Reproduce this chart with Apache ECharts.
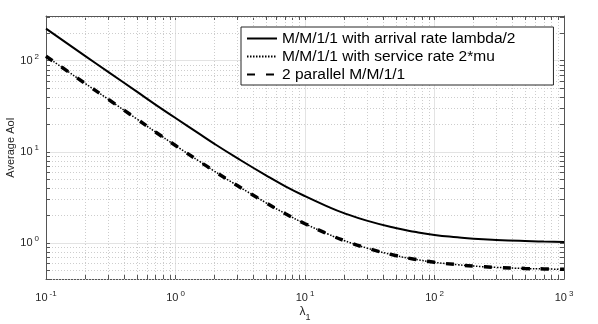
<!DOCTYPE html>
<html>
<head>
<meta charset="utf-8">
<script src="https://cdn.jsdelivr.net/npm/echarts@6/dist/echarts.min.js"></script>
<style>
html, body { margin: 0; padding: 0; background: #fff; }
#chart { width: 598px; height: 324px; }
</style>
</head>
<body>
<div id="chart"></div>
<script>
var lambdas = [0.1, 0.2, 0.3, 0.5, 0.7, 1, 1.5, 2, 3, 5, 7, 10, 15, 20, 30, 50, 70, 100, 150, 200, 300, 500, 700, 1000];
var halfArrival = [225, 113, 76, 46, 33, 23.5, 16, 12.2, 8.5, 5.5, 4.2, 3.25, 2.5, 2.12, 1.75, 1.45, 1.32, 1.22, 1.15, 1.11, 1.075, 1.045, 1.032, 1.022];
var doubleService = [112, 56.5, 38, 23, 16.5, 11.7, 8, 6.1, 4.25, 2.75, 2.1, 1.62, 1.25, 1.06, 0.875, 0.725, 0.66, 0.61, 0.575, 0.555, 0.537, 0.522, 0.516, 0.511];
var parallel = [112, 56.5, 38, 23, 16.5, 11.7, 8, 6.1, 4.25, 2.75, 2.1, 1.62, 1.25, 1.06, 0.875, 0.725, 0.66, 0.61, 0.575, 0.555, 0.537, 0.522, 0.516, 0.511];
var seriesNames = ['M/M/1/1 with arrival rate lambda/2', 'M/M/1/1 with service rate 2*mu', '2 parallel M/M/1/1'];

var xMin = 0.1, xMax = 1000;
var yMin = 0.4, yMax = 310;

function pairs(vals) {
    return lambdas.map(function (l, i) { return [l, vals[i]]; });
}

// minor decade positions (2..9 of each decade) for grid + ticks
var minorData = [];
[-1, 0, 1, 2].forEach(function (e) {
    for (var k = 2; k <= 9; k++) {
        var v = k * Math.pow(10, e);
        if (v > xMin && v < xMax) minorData.push([v, 1, 0]);
        if (v > yMin && v < yMax) minorData.push([1, v, 1]);
    }
});
for (var k = 4; k <= 9; k++) minorData.push([1, k / 10, 1]);

var textColor = '#262626';
var boxColor = '#555';
var font = 'Liberation Sans';

var powLabel = {
    formatter: function (v) {
        return '{b|10}{s|' + Math.round(Math.log10(v)) + '}';
    },
    rich: {
        b: { fontSize: 11, lineHeight: 16, color: textColor, fontFamily: font },
        s: { fontSize: 8, lineHeight: 9, verticalAlign: 'top', padding: [0, 0, 0, 2], color: textColor, fontFamily: font }
    }
};

function logAxis(min, max, extra) {
    var ax = {
        type: 'log',
        logBase: 10,
        min: min,
        max: max,
        axisLine: { show: true, onZero: false, lineStyle: { color: boxColor, width: 1 } },
        axisTick: { show: true, inside: true, length: 4, lineStyle: { color: boxColor } },
        splitLine: { show: false },
        axisLabel: { show: false }
    };
    return Object.assign(ax, extra);
}

var chart = echarts.init(document.getElementById('chart'));

var options = {
    animation: false,
    backgroundColor: '#fff',
    grid: { left: 46, right: 34, top: 16, bottom: 45, containLabel: false, outerBoundsMode: 'none' },
    legend: {
        orient: 'vertical',
        left: 241,
        top: 27,
        padding: [3, 38, 2, 5],
        itemGap: 1,
        itemWidth: 30,
        itemHeight: 14,
        backgroundColor: '#fff',
        borderColor: '#262626',
        borderWidth: 1,
        borderRadius: 0,
        itemStyle: { opacity: 0 },
        textStyle: { fontSize: 15.5, lineHeight: 17, color: '#000', fontFamily: font },
        data: seriesNames
    },
    xAxis: [
        logAxis(xMin, xMax, {
            position: 'bottom',
            name: '{a|λ}{b|1}',
            nameLocation: 'middle',
            nameGap: 23,
            nameMoveOverlap: false,
            nameTextStyle: {
                rich: {
                    a: { fontSize: 12, lineHeight: 20, color: textColor, fontFamily: font },
                    b: { fontSize: 9, lineHeight: 9, verticalAlign: 'bottom', color: textColor, fontFamily: font }
                }
            },
            splitLine: { show: true, lineStyle: { color: '#e3e3e3', width: 1 } },
            axisLabel: Object.assign({ show: true, margin: 11, showMinLabel: true, showMaxLabel: true }, powLabel)
        }),
        logAxis(xMin, xMax, { position: 'top' })
    ],
    yAxis: [
        logAxis(yMin, yMax, {
            position: 'left',
            name: 'Average AoI',
            nameLocation: 'middle',
            nameGap: 30,
            nameMoveOverlap: false,
            nameTextStyle: { fontSize: 11, color: textColor, fontFamily: font },
            splitLine: { show: true, lineStyle: { color: '#e3e3e3', width: 1 } },
            axisLabel: Object.assign({ show: true, margin: 7, showMinLabel: false, showMaxLabel: false }, powLabel)
        }),
        logAxis(yMin, yMax, { position: 'right' })
    ],
    series: [
        {
            type: 'custom',
            silent: true,
            z: 1,
            xAxisIndex: 0,
            yAxisIndex: 0,
            data: minorData,
            renderItem: function (params, api) {
                var cs = params.coordSys;
                var kind = api.value(2);
                var style = { stroke: '#cdcdcd', lineWidth: 1, lineDash: [1, 2] };
                var tick = { stroke: boxColor, lineWidth: 1 };
                var kids = [];
                if (kind === 0) {
                    var x = Math.round(api.coord([api.value(0), 1])[0]) + 0.5;
                    kids.push({ type: 'line', shape: { x1: x, y1: cs.y, x2: x, y2: cs.y + cs.height }, style: style });
                    kids.push({ type: 'line', shape: { x1: x, y1: cs.y + cs.height, x2: x, y2: cs.y + cs.height - 4 }, style: tick });
                    kids.push({ type: 'line', shape: { x1: x, y1: cs.y, x2: x, y2: cs.y + 4 }, style: tick });
                } else {
                    var y = Math.round(api.coord([1, api.value(1)])[1]) + 0.5;
                    kids.push({ type: 'line', shape: { x1: cs.x, y1: y, x2: cs.x + cs.width, y2: y }, style: style });
                    kids.push({ type: 'line', shape: { x1: cs.x, y1: y, x2: cs.x + 4, y2: y }, style: tick });
                    kids.push({ type: 'line', shape: { x1: cs.x + cs.width, y1: y, x2: cs.x + cs.width - 4, y2: y }, style: tick });
                }
                return { type: 'group', children: kids };
            }
        },
        {
            name: seriesNames[0],
            type: 'line',
            data: pairs(halfArrival),
            smooth: true,
            symbol: 'none',
            z: 3,
            itemStyle: { color: '#000' },
            lineStyle: { color: '#000', width: 2, type: 'solid' }
        },
        {
            name: seriesNames[1],
            type: 'line',
            data: pairs(doubleService),
            smooth: true,
            symbol: 'none',
            z: 3,
            itemStyle: { color: '#000' },
            lineStyle: { color: '#000', width: 1.5, type: [1.5, 1.5] }
        },
        {
            name: seriesNames[2],
            type: 'line',
            data: pairs(parallel),
            smooth: true,
            symbol: 'none',
            z: 4,
            itemStyle: { color: '#000' },
            lineStyle: { color: '#000', width: 3.5, type: [8, 11] }
        }
    ]
};

chart.setOption(options);
</script>
</body>
</html>
